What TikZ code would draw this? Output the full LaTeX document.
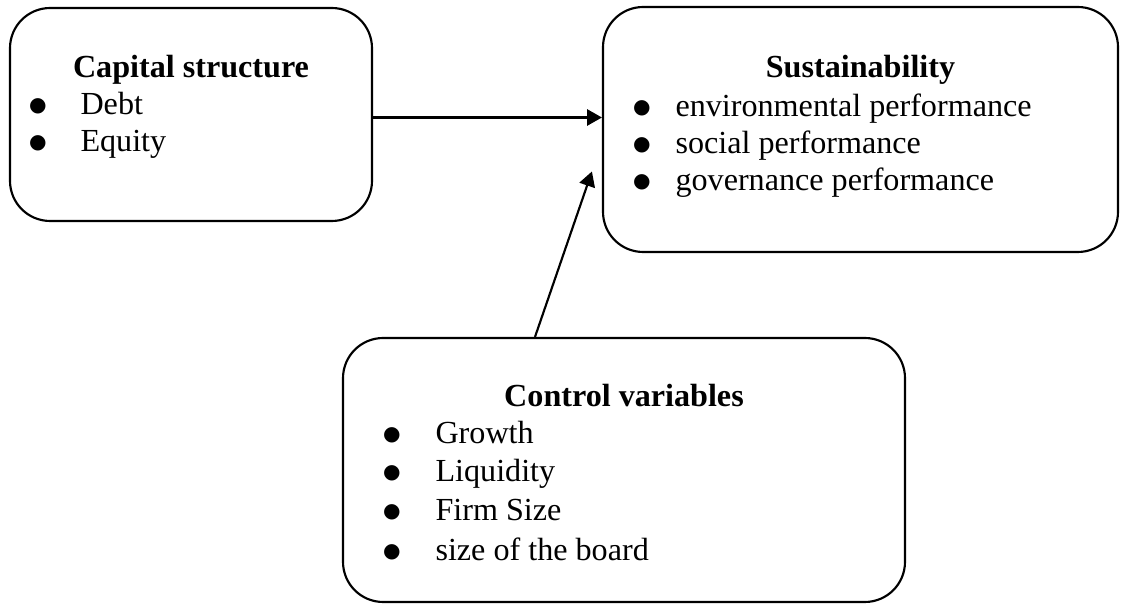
\documentclass[tikz,border=0pt]{standalone}
\usepackage{fontspec}
\setmainfont{Liberation Serif}
\newfontfamily\symfont{DejaVu Sans}
\usepackage{tikz}
\usetikzlibrary{arrows.meta,fit}

\tikzset{
	box/.style={draw, line width=0.8pt, rounded corners=15pt, inner sep=0pt},
	ttl/.style={anchor=base, inner sep=0pt, font=\fontsize{12}{14}\selectfont\bfseries},
	itm/.style={anchor=base west, inner sep=0pt, font=\fontsize{12}{14}\selectfont},
	bul/.style={anchor=center, inner sep=0pt, font=\symfont\fontsize{7.5}{8}\selectfont},
	arr/.style={line width=0.8pt, -{Triangle[length=5.5pt,width=6pt]}}
}

\begin{document}
\begin{tikzpicture}[x=0.01312cm, y=-0.01312cm]
		\useasboundingbox (0,0) rectangle (1125,605);
		
		\node[box, fit={(10,8) (372,221)}] (cap) {};
		\node[box, fit={(603,7) (1118,252)}] (sus) {};
		\node[box, fit={(343,338) (905,602)}] (ctl) {};
		
		\node[ttl] (cap-t) at (cap.center |- 0,78) {Capital structure};
		\node[bul] (cap-b1) at (38,106) {●};
		\node[itm] (cap-1) at (80,115) {Debt};
		\node[bul] (cap-b2) at (38,143) {●};
		\node[itm] (cap-2) at (80,152) {Equity};
		
		\node[ttl] (sus-t) at (sus.center |- 0,78) {Sustainability};
		\node[bul] (sus-b1) at (642,108) {●};
		\node[itm] (sus-1) at (675,117) {environmental performance};
		\node[bul] (sus-b2) at (642,145) {●};
		\node[itm] (sus-2) at (675,154) {social performance};
		\node[bul] (sus-b3) at (642,182) {●};
		\node[itm] (sus-3) at (675,191) {governance performance};
		
		\node[ttl] (ctl-t) at (ctl.center |- 0,407) {Control variables};
		\node[bul] (ctl-b1) at (392,435) {●};
		\node[itm] (ctl-1) at (435,444) {Growth};
		\node[bul] (ctl-b2) at (392,473) {●};
		\node[itm] (ctl-2) at (435,482) {Liquidity};
		\node[bul] (ctl-b3) at (392,512) {●};
		\node[itm] (ctl-3) at (435,521) {Firm Size};
		\node[bul] (ctl-b4) at (392,552) {●};
		\node[itm] (ctl-4) at (435,561) {size of the board};
		
		\coordinate (tip) at ([shift={(-10,42)}]sus.west);
		
		\draw[arr] ([shift={(0,3)}]cap.east) -- ([shift={(0,3)}]cap.east -| sus.west);
		\draw[arr] ([shift={(-89,0)}]ctl.north) -- (tip);
	\end{tikzpicture}
\end{document}
